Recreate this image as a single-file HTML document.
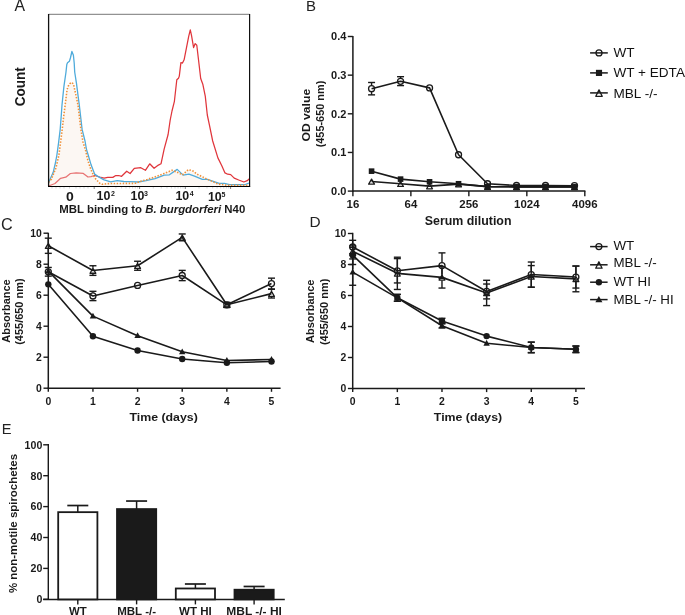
<!DOCTYPE html>
<html><head><meta charset="utf-8"><style>html,body{margin:0;padding:0;background:#fff;}svg{display:block;will-change:transform;}</style></head>
<body>
<svg width="685" height="615" viewBox="0 0 685 615" font-family='"Liberation Sans", sans-serif'>
<rect width="685" height="615" fill="#fff"/>
<polyline points="48.60,186.00 55.00,183.50 60.60,178.30 65.80,177.20 70.40,173.50 76.20,172.90 83.30,173.40 88.00,177.00 91.00,176.60 94.60,175.50 99.70,177.00 104.10,178.10 107.70,177.40 112.80,177.40 115.80,175.50 118.70,175.50 121.60,176.30 126.70,171.20 130.10,173.50 134.30,168.30 140.80,167.70 145.40,170.30 149.70,163.80 154.10,168.30 158.40,165.10 161.00,163.80 164.20,148.80 168.10,134.50 170.20,120.00 172.00,111.00 174.40,101.30 176.80,79.80 178.50,78.20 179.30,76.10 180.90,62.60 182.50,63.10 184.10,59.80 188.70,36.30 190.30,29.80 191.50,35.40 193.60,47.60 195.20,43.60 196.80,45.20 198.80,62.30 200.70,78.50 202.80,84.20 205.30,96.40 207.30,115.00 209.50,125.40 212.70,141.00 217.90,157.90 221.80,165.70 225.00,172.90 227.70,174.20 230.70,174.60 234.20,178.10 238.70,180.00 243.90,182.00 247.20,180.70 249.40,178.70" fill="none" stroke="#e0353b" stroke-width="1.25" stroke-linejoin="round" />
<polygon points="48.6,186.2 48.60,182.50 49.10,181.40 51.40,179.10 56.00,167.70 58.90,155.00 60.60,142.00 62.20,129.40 63.60,117.00 64.80,108.00 66.20,96.60 67.10,89.60 68.30,86.00 70.00,83.50 72.10,82.50 73.60,84.60 74.70,89.60 76.50,97.80 78.00,105.00 80.90,129.40 83.00,142.00 85.50,150.00 88.00,161.00 91.00,169.70 94.60,177.70 99.70,183.20 102.30,184.30 107.70,183.60 135.60,183.30 140.80,181.30 147.30,179.40 159.00,175.50 172.00,170.30 177.20,172.20 182.40,174.80 188.30,169.60 192.80,170.90 197.10,174.20 206.20,178.70 217.90,184.00 227.00,185.20 249.00,185.20 249,186.2" fill="#f6e8dd" fill-opacity="0.35"/>
<polyline points="48.60,182.50 49.10,181.40 53.20,172.30 55.40,163.00 56.90,155.00 58.60,142.70 60.20,129.40 61.30,115.00 62.00,105.00 63.90,86.60 66.00,72.00 66.80,64.50 67.50,62.80 69.40,61.30 70.40,58.00 71.90,51.50 73.40,55.30 74.20,63.00 74.70,72.00 76.50,83.70 78.00,95.40 79.30,105.00 82.10,129.40 85.00,141.00 86.60,150.00 88.20,155.00 91.00,164.60 94.60,174.10 98.20,176.60 104.10,179.90 110.70,181.80 117.20,180.70 123.80,181.50 130.00,181.60 138.20,182.00 146.00,180.70 155.10,178.70 164.20,175.20 169.40,174.80 177.20,169.40 183.10,175.10 188.90,174.20 194.50,176.10 202.30,179.40 207.50,179.40 219.20,183.30 224.40,183.30 229.60,184.60 245.20,184.60 249.00,183.00" fill="none" stroke="#4fabdb" stroke-width="1.3" stroke-linejoin="round" />
<polyline points="48.60,182.50 49.10,181.40 51.40,179.10 56.00,167.70 58.90,155.00 60.60,142.00 62.20,129.40 63.60,117.00 64.80,108.00 66.20,96.60 67.10,89.60 68.30,86.00 70.00,83.50 72.10,82.50 73.60,84.60 74.70,89.60 76.50,97.80 78.00,105.00 80.90,129.40 83.00,142.00 85.50,150.00 88.00,161.00 91.00,169.70 94.60,177.70 99.70,183.20 102.30,184.30 107.70,183.60 135.60,183.30 140.80,181.30 147.30,179.40 159.00,175.50 172.00,170.30 177.20,172.20 182.40,174.80 188.30,169.60 192.80,170.90 197.10,174.20 206.20,178.70 217.90,184.00 227.00,185.20 249.00,185.20" fill="none" stroke="#f0913a" stroke-width="1.6" stroke-linejoin="round" stroke-dasharray="1.5,1.5"/>
<line x1="48.50" y1="14.30" x2="249.60" y2="14.30" stroke="#777" stroke-width="1.0" />
<line x1="249.60" y1="14.00" x2="249.60" y2="186.50" stroke="#111" stroke-width="1.2" />
<line x1="48.60" y1="14.00" x2="48.60" y2="186.60" stroke="#111" stroke-width="1.3" />
<line x1="48.00" y1="186.50" x2="250.20" y2="186.50" stroke="#000" stroke-width="1.05" />
<line x1="94.20" y1="187.00" x2="94.20" y2="189.00" stroke="#666" stroke-width="0.8" />
<line x1="107.90" y1="187.00" x2="107.90" y2="188.50" stroke="#c4c4c4" stroke-width="0.7" />
<line x1="115.91" y1="187.00" x2="115.91" y2="188.50" stroke="#c4c4c4" stroke-width="0.7" />
<line x1="121.59" y1="187.00" x2="121.59" y2="188.50" stroke="#c4c4c4" stroke-width="0.7" />
<line x1="126.00" y1="187.00" x2="126.00" y2="188.50" stroke="#c4c4c4" stroke-width="0.7" />
<line x1="129.61" y1="187.00" x2="129.61" y2="188.50" stroke="#c4c4c4" stroke-width="0.7" />
<line x1="132.65" y1="187.00" x2="132.65" y2="188.50" stroke="#c4c4c4" stroke-width="0.7" />
<line x1="135.29" y1="187.00" x2="135.29" y2="188.50" stroke="#c4c4c4" stroke-width="0.7" />
<line x1="137.62" y1="187.00" x2="137.62" y2="188.50" stroke="#c4c4c4" stroke-width="0.7" />
<line x1="139.60" y1="187.00" x2="139.60" y2="189.00" stroke="#666" stroke-width="0.8" />
<line x1="153.30" y1="187.00" x2="153.30" y2="188.50" stroke="#c4c4c4" stroke-width="0.7" />
<line x1="161.31" y1="187.00" x2="161.31" y2="188.50" stroke="#c4c4c4" stroke-width="0.7" />
<line x1="166.99" y1="187.00" x2="166.99" y2="188.50" stroke="#c4c4c4" stroke-width="0.7" />
<line x1="171.40" y1="187.00" x2="171.40" y2="188.50" stroke="#c4c4c4" stroke-width="0.7" />
<line x1="175.01" y1="187.00" x2="175.01" y2="188.50" stroke="#c4c4c4" stroke-width="0.7" />
<line x1="178.05" y1="187.00" x2="178.05" y2="188.50" stroke="#c4c4c4" stroke-width="0.7" />
<line x1="180.69" y1="187.00" x2="180.69" y2="188.50" stroke="#c4c4c4" stroke-width="0.7" />
<line x1="183.02" y1="187.00" x2="183.02" y2="188.50" stroke="#c4c4c4" stroke-width="0.7" />
<line x1="185.30" y1="187.00" x2="185.30" y2="189.00" stroke="#666" stroke-width="0.8" />
<line x1="199.00" y1="187.00" x2="199.00" y2="188.50" stroke="#c4c4c4" stroke-width="0.7" />
<line x1="207.01" y1="187.00" x2="207.01" y2="188.50" stroke="#c4c4c4" stroke-width="0.7" />
<line x1="212.69" y1="187.00" x2="212.69" y2="188.50" stroke="#c4c4c4" stroke-width="0.7" />
<line x1="217.10" y1="187.00" x2="217.10" y2="188.50" stroke="#c4c4c4" stroke-width="0.7" />
<line x1="220.71" y1="187.00" x2="220.71" y2="188.50" stroke="#c4c4c4" stroke-width="0.7" />
<line x1="223.75" y1="187.00" x2="223.75" y2="188.50" stroke="#c4c4c4" stroke-width="0.7" />
<line x1="226.39" y1="187.00" x2="226.39" y2="188.50" stroke="#c4c4c4" stroke-width="0.7" />
<line x1="228.72" y1="187.00" x2="228.72" y2="188.50" stroke="#c4c4c4" stroke-width="0.7" />
<line x1="230.60" y1="187.00" x2="230.60" y2="189.00" stroke="#666" stroke-width="0.8" />
<line x1="52.00" y1="187.00" x2="52.00" y2="188.50" stroke="#c4c4c4" stroke-width="0.7" />
<line x1="56.00" y1="187.00" x2="56.00" y2="188.50" stroke="#c4c4c4" stroke-width="0.7" />
<line x1="60.00" y1="187.00" x2="60.00" y2="188.50" stroke="#c4c4c4" stroke-width="0.7" />
<line x1="64.00" y1="187.00" x2="64.00" y2="188.50" stroke="#c4c4c4" stroke-width="0.7" />
<line x1="69.50" y1="187.00" x2="69.50" y2="188.50" stroke="#c4c4c4" stroke-width="0.7" />
<line x1="76.00" y1="187.00" x2="76.00" y2="188.50" stroke="#c4c4c4" stroke-width="0.7" />
<line x1="80.00" y1="187.00" x2="80.00" y2="188.50" stroke="#c4c4c4" stroke-width="0.7" />
<line x1="84.00" y1="187.00" x2="84.00" y2="188.50" stroke="#c4c4c4" stroke-width="0.7" />
<line x1="88.00" y1="187.00" x2="88.00" y2="188.50" stroke="#c4c4c4" stroke-width="0.7" />
<text transform="translate(65.90,201.00) scale(1.130,1)" font-size="12.4" font-weight="bold" text-anchor="start" fill="#1a1a1a" >0</text>
<text transform="translate(96.60,200.30)" font-size="12.4" font-weight="bold" text-anchor="start" fill="#1a1a1a" >10</text>
<text transform="translate(110.90,196.20)" font-size="7.0" font-weight="bold" text-anchor="start" fill="#1a1a1a" >2</text>
<text transform="translate(130.60,200.30)" font-size="12.4" font-weight="bold" text-anchor="start" fill="#1a1a1a" >10</text>
<text transform="translate(143.90,196.20)" font-size="7.0" font-weight="bold" text-anchor="start" fill="#1a1a1a" >3</text>
<text transform="translate(175.40,200.30)" font-size="12.4" font-weight="bold" text-anchor="start" fill="#1a1a1a" >10</text>
<text transform="translate(189.70,196.20)" font-size="7.0" font-weight="bold" text-anchor="start" fill="#1a1a1a" >4</text>
<text transform="translate(207.90,201.30)" font-size="12.4" font-weight="bold" text-anchor="start" fill="#1a1a1a" >10</text>
<text transform="translate(221.50,197.20)" font-size="7.0" font-weight="bold" text-anchor="start" fill="#1a1a1a" >5</text>
<text transform="translate(59.3,212.7) scale(1.067,1)" font-size="10.7" font-weight="bold" fill="#1a1a1a">MBL binding to <tspan font-style="italic">B. burgdorferi</tspan> N40</text>
<text transform="translate(25.30,106.20) rotate(-90) scale(0.965,1)" font-size="14.0" font-weight="bold" text-anchor="start" fill="#1a1a1a" >Count</text>
<text transform="translate(14.40,11.20)" font-size="15.8" font-weight="normal" text-anchor="start" fill="#222" >A</text>
<text transform="translate(306.00,10.70)" font-size="15.0" font-weight="normal" text-anchor="start" fill="#222" >B</text>
<line x1="352.90" y1="35.90" x2="352.90" y2="191.80" stroke="#1a1a1a" stroke-width="1.5" />
<line x1="352.20" y1="191.10" x2="585.40" y2="191.10" stroke="#1a1a1a" stroke-width="1.5" />
<line x1="347.80" y1="191.10" x2="352.90" y2="191.10" stroke="#1a1a1a" stroke-width="1.4" />
<text transform="translate(346.40,194.90) scale(1.060,1)" font-size="10.4" font-weight="bold" text-anchor="end" fill="#1a1a1a" >0.0</text>
<line x1="347.80" y1="152.45" x2="352.90" y2="152.45" stroke="#1a1a1a" stroke-width="1.4" />
<text transform="translate(346.40,156.25) scale(1.060,1)" font-size="10.4" font-weight="bold" text-anchor="end" fill="#1a1a1a" >0.1</text>
<line x1="347.80" y1="113.80" x2="352.90" y2="113.80" stroke="#1a1a1a" stroke-width="1.4" />
<text transform="translate(346.40,117.60) scale(1.060,1)" font-size="10.4" font-weight="bold" text-anchor="end" fill="#1a1a1a" >0.2</text>
<line x1="347.80" y1="75.15" x2="352.90" y2="75.15" stroke="#1a1a1a" stroke-width="1.4" />
<text transform="translate(346.40,78.95) scale(1.060,1)" font-size="10.4" font-weight="bold" text-anchor="end" fill="#1a1a1a" >0.3</text>
<line x1="347.80" y1="36.50" x2="352.90" y2="36.50" stroke="#1a1a1a" stroke-width="1.4" />
<text transform="translate(346.40,40.30) scale(1.060,1)" font-size="10.4" font-weight="bold" text-anchor="end" fill="#1a1a1a" >0.4</text>
<line x1="352.90" y1="191.10" x2="352.90" y2="196.20" stroke="#1a1a1a" stroke-width="1.4" />
<text transform="translate(352.90,207.90) scale(1.070,1)" font-size="10.7" font-weight="bold" text-anchor="middle" fill="#1a1a1a" >16</text>
<line x1="410.88" y1="191.10" x2="410.88" y2="196.20" stroke="#1a1a1a" stroke-width="1.4" />
<text transform="translate(410.88,207.90) scale(1.070,1)" font-size="10.7" font-weight="bold" text-anchor="middle" fill="#1a1a1a" >64</text>
<line x1="468.86" y1="191.10" x2="468.86" y2="196.20" stroke="#1a1a1a" stroke-width="1.4" />
<text transform="translate(468.86,207.90) scale(1.070,1)" font-size="10.7" font-weight="bold" text-anchor="middle" fill="#1a1a1a" >256</text>
<line x1="526.84" y1="191.10" x2="526.84" y2="196.20" stroke="#1a1a1a" stroke-width="1.4" />
<text transform="translate(526.84,207.90) scale(1.070,1)" font-size="10.7" font-weight="bold" text-anchor="middle" fill="#1a1a1a" >1024</text>
<line x1="584.82" y1="191.10" x2="584.82" y2="196.20" stroke="#1a1a1a" stroke-width="1.4" />
<text transform="translate(584.82,207.90) scale(1.070,1)" font-size="10.7" font-weight="bold" text-anchor="middle" fill="#1a1a1a" >4096</text>
<text transform="translate(468.10,225.00)" font-size="12.4" font-weight="bold" text-anchor="middle" fill="#1a1a1a" >Serum dilution</text>
<text transform="translate(310.30,115.20) rotate(-90) scale(1.150,1)" font-size="10.6" font-weight="bold" text-anchor="middle" fill="#1a1a1a" >OD value</text>
<text transform="translate(324.30,114.00) rotate(-90) scale(1.030,1)" font-size="10.6" font-weight="bold" text-anchor="middle" fill="#1a1a1a" >(455-650 nm)</text>
<polyline points="371.57,181.44 400.56,183.76 429.55,186.08 458.54,184.14 487.53,186.66 516.52,186.85 545.51,186.85 574.50,186.85" fill="none" stroke="#1a1a1a" stroke-width="1.6" stroke-linejoin="round" />
<polyline points="371.57,171.16 400.56,179.12 429.55,181.82 458.54,183.76 487.53,186.66 516.52,186.85 545.51,186.85 574.50,186.85" fill="none" stroke="#1a1a1a" stroke-width="1.6" stroke-linejoin="round" />
<polyline points="371.57,88.68 400.56,81.33 429.55,87.90 458.54,154.77 487.53,183.76 516.52,185.50 545.51,185.50 574.50,185.69" fill="none" stroke="#1a1a1a" stroke-width="1.6" stroke-linejoin="round" />
<line x1="371.57" y1="82.49" x2="371.57" y2="85.38" stroke="#1a1a1a" stroke-width="1.4" />
<line x1="371.57" y1="91.98" x2="371.57" y2="94.86" stroke="#1a1a1a" stroke-width="1.4" />
<line x1="368.07" y1="82.49" x2="375.07" y2="82.49" stroke="#1a1a1a" stroke-width="1.4" />
<line x1="368.07" y1="94.86" x2="375.07" y2="94.86" stroke="#1a1a1a" stroke-width="1.4" />
<line x1="400.56" y1="76.70" x2="400.56" y2="78.03" stroke="#1a1a1a" stroke-width="1.4" />
<line x1="400.56" y1="84.63" x2="400.56" y2="85.59" stroke="#1a1a1a" stroke-width="1.4" />
<line x1="397.06" y1="76.70" x2="404.06" y2="76.70" stroke="#1a1a1a" stroke-width="1.4" />
<line x1="397.06" y1="85.59" x2="404.06" y2="85.59" stroke="#1a1a1a" stroke-width="1.4" />
<path d="M371.57,179.14 L374.47,184.14 L368.67,184.14 Z" fill="none" stroke="#1a1a1a" stroke-width="1.3" stroke-linejoin="round"/>
<path d="M400.56,181.46 L403.46,186.46 L397.66,186.46 Z" fill="none" stroke="#1a1a1a" stroke-width="1.3" stroke-linejoin="round"/>
<path d="M429.55,183.78 L432.45,188.78 L426.65,188.78 Z" fill="none" stroke="#1a1a1a" stroke-width="1.3" stroke-linejoin="round"/>
<path d="M458.54,181.84 L461.44,186.84 L455.64,186.84 Z" fill="none" stroke="#1a1a1a" stroke-width="1.3" stroke-linejoin="round"/>
<path d="M487.53,184.36 L490.43,189.36 L484.63,189.36 Z" fill="none" stroke="#1a1a1a" stroke-width="1.3" stroke-linejoin="round"/>
<path d="M516.52,184.55 L519.42,189.55 L513.62,189.55 Z" fill="none" stroke="#1a1a1a" stroke-width="1.3" stroke-linejoin="round"/>
<path d="M545.51,184.55 L548.41,189.55 L542.61,189.55 Z" fill="none" stroke="#1a1a1a" stroke-width="1.3" stroke-linejoin="round"/>
<path d="M574.50,184.55 L577.40,189.55 L571.60,189.55 Z" fill="none" stroke="#1a1a1a" stroke-width="1.3" stroke-linejoin="round"/>
<rect x="368.77" y="168.36" width="5.60" height="5.60" fill="#1a1a1a"/>
<rect x="397.76" y="176.32" width="5.60" height="5.60" fill="#1a1a1a"/>
<rect x="426.75" y="179.02" width="5.60" height="5.60" fill="#1a1a1a"/>
<rect x="455.74" y="180.96" width="5.60" height="5.60" fill="#1a1a1a"/>
<rect x="484.73" y="183.86" width="5.60" height="5.60" fill="#1a1a1a"/>
<rect x="513.72" y="184.05" width="5.60" height="5.60" fill="#1a1a1a"/>
<rect x="542.71" y="184.05" width="5.60" height="5.60" fill="#1a1a1a"/>
<rect x="571.70" y="184.05" width="5.60" height="5.60" fill="#1a1a1a"/>
<circle cx="371.57" cy="88.68" r="3.00" fill="none" stroke="#1a1a1a" stroke-width="1.3"/>
<circle cx="400.56" cy="81.33" r="3.00" fill="none" stroke="#1a1a1a" stroke-width="1.3"/>
<circle cx="429.55" cy="87.90" r="3.00" fill="none" stroke="#1a1a1a" stroke-width="1.3"/>
<circle cx="458.54" cy="154.77" r="3.00" fill="none" stroke="#1a1a1a" stroke-width="1.3"/>
<circle cx="487.53" cy="183.76" r="3.00" fill="none" stroke="#1a1a1a" stroke-width="1.3"/>
<circle cx="516.52" cy="185.50" r="3.00" fill="none" stroke="#1a1a1a" stroke-width="1.3"/>
<circle cx="545.51" cy="185.50" r="3.00" fill="none" stroke="#1a1a1a" stroke-width="1.3"/>
<circle cx="574.50" cy="185.69" r="3.00" fill="none" stroke="#1a1a1a" stroke-width="1.3"/>
<line x1="590.10" y1="52.90" x2="607.80" y2="52.90" stroke="#1a1a1a" stroke-width="1.5" />
<circle cx="599.00" cy="52.90" r="3.00" fill="none" stroke="#1a1a1a" stroke-width="1.3"/>
<text transform="translate(613.50,57.10) scale(1.020,1)" font-size="13.3" font-weight="normal" text-anchor="start" fill="#111" >WT</text>
<line x1="590.10" y1="72.90" x2="607.80" y2="72.90" stroke="#1a1a1a" stroke-width="1.5" />
<rect x="595.92" y="69.82" width="6.16" height="6.16" fill="#1a1a1a"/>
<text transform="translate(613.50,77.20) scale(1.020,1)" font-size="13.3" font-weight="normal" text-anchor="start" fill="#111" >WT + EDTA</text>
<line x1="590.10" y1="92.90" x2="607.80" y2="92.90" stroke="#1a1a1a" stroke-width="1.5" />
<path d="M599.00,89.90 L602.20,96.30 L595.80,96.30 Z" fill="none" stroke="#1a1a1a" stroke-width="1.3" stroke-linejoin="round"/>
<text transform="translate(613.50,97.50) scale(1.020,1)" font-size="13.3" font-weight="normal" text-anchor="start" fill="#111" >MBL -/-</text>
<line x1="48.30" y1="232.80" x2="48.30" y2="388.90" stroke="#1a1a1a" stroke-width="1.5" />
<line x1="47.60" y1="388.20" x2="280.60" y2="388.20" stroke="#1a1a1a" stroke-width="1.5" />
<line x1="43.50" y1="388.20" x2="48.30" y2="388.20" stroke="#1a1a1a" stroke-width="1.4" />
<text transform="translate(41.90,392.00)" font-size="10.4" font-weight="bold" text-anchor="end" fill="#1a1a1a" >0</text>
<line x1="43.50" y1="357.20" x2="48.30" y2="357.20" stroke="#1a1a1a" stroke-width="1.4" />
<text transform="translate(41.90,361.00)" font-size="10.4" font-weight="bold" text-anchor="end" fill="#1a1a1a" >2</text>
<line x1="43.50" y1="326.20" x2="48.30" y2="326.20" stroke="#1a1a1a" stroke-width="1.4" />
<text transform="translate(41.90,330.00)" font-size="10.4" font-weight="bold" text-anchor="end" fill="#1a1a1a" >4</text>
<line x1="43.50" y1="295.20" x2="48.30" y2="295.20" stroke="#1a1a1a" stroke-width="1.4" />
<text transform="translate(41.90,299.00)" font-size="10.4" font-weight="bold" text-anchor="end" fill="#1a1a1a" >6</text>
<line x1="43.50" y1="264.20" x2="48.30" y2="264.20" stroke="#1a1a1a" stroke-width="1.4" />
<text transform="translate(41.90,268.00)" font-size="10.4" font-weight="bold" text-anchor="end" fill="#1a1a1a" >8</text>
<line x1="43.50" y1="233.20" x2="48.30" y2="233.20" stroke="#1a1a1a" stroke-width="1.4" />
<text transform="translate(41.90,237.00)" font-size="10.4" font-weight="bold" text-anchor="end" fill="#1a1a1a" >10</text>
<line x1="48.30" y1="388.20" x2="48.30" y2="391.80" stroke="#1a1a1a" stroke-width="1.4" />
<text transform="translate(48.30,404.60)" font-size="10.4" font-weight="bold" text-anchor="middle" fill="#1a1a1a" >0</text>
<line x1="92.94" y1="388.20" x2="92.94" y2="391.80" stroke="#1a1a1a" stroke-width="1.4" />
<text transform="translate(92.94,404.60)" font-size="10.4" font-weight="bold" text-anchor="middle" fill="#1a1a1a" >1</text>
<line x1="137.58" y1="388.20" x2="137.58" y2="391.80" stroke="#1a1a1a" stroke-width="1.4" />
<text transform="translate(137.58,404.60)" font-size="10.4" font-weight="bold" text-anchor="middle" fill="#1a1a1a" >2</text>
<line x1="182.22" y1="388.20" x2="182.22" y2="391.80" stroke="#1a1a1a" stroke-width="1.4" />
<text transform="translate(182.22,404.60)" font-size="10.4" font-weight="bold" text-anchor="middle" fill="#1a1a1a" >3</text>
<line x1="226.86" y1="388.20" x2="226.86" y2="391.80" stroke="#1a1a1a" stroke-width="1.4" />
<text transform="translate(226.86,404.60)" font-size="10.4" font-weight="bold" text-anchor="middle" fill="#1a1a1a" >4</text>
<line x1="271.50" y1="388.20" x2="271.50" y2="391.80" stroke="#1a1a1a" stroke-width="1.4" />
<text transform="translate(271.50,404.60)" font-size="10.4" font-weight="bold" text-anchor="middle" fill="#1a1a1a" >5</text>
<text transform="translate(163.60,420.90) scale(1.075,1)" font-size="11.5" font-weight="bold" text-anchor="middle" fill="#1a1a1a" >Time (days)</text>
<text transform="translate(10.00,311.00) rotate(-90) scale(0.980,1)" font-size="11.2" font-weight="bold" text-anchor="middle" fill="#1a1a1a" >Absorbance</text>
<text transform="translate(23.30,311.60) rotate(-90) scale(0.980,1)" font-size="11.2" font-weight="bold" text-anchor="middle" fill="#1a1a1a" >(455/650 nm)</text>
<text transform="translate(1.00,230.40)" font-size="16.2" font-weight="normal" text-anchor="start" fill="#222" >C</text>
<polyline points="48.30,284.35 92.94,336.27 137.58,350.53 182.22,359.06 226.86,362.78 271.50,361.54" fill="none" stroke="#1a1a1a" stroke-width="1.6" stroke-linejoin="round" />
<polyline points="48.30,271.18 92.94,316.12 137.58,335.65 182.22,351.77 226.86,360.45 271.50,359.52" fill="none" stroke="#1a1a1a" stroke-width="1.6" stroke-linejoin="round" />
<polyline points="48.30,271.79 92.94,295.97 137.58,285.44 182.22,275.51 226.86,304.81 271.50,283.57" fill="none" stroke="#1a1a1a" stroke-width="1.6" stroke-linejoin="round" />
<polyline points="48.30,245.75 92.94,270.56 137.58,265.75 182.22,237.38 226.86,304.81 271.50,293.65" fill="none" stroke="#1a1a1a" stroke-width="1.6" stroke-linejoin="round" />
<line x1="48.30" y1="267.45" x2="48.30" y2="268.49" stroke="#1a1a1a" stroke-width="1.4" />
<line x1="48.30" y1="275.09" x2="48.30" y2="276.13" stroke="#1a1a1a" stroke-width="1.4" />
<line x1="44.80" y1="267.45" x2="51.80" y2="267.45" stroke="#1a1a1a" stroke-width="1.4" />
<line x1="44.80" y1="276.13" x2="51.80" y2="276.13" stroke="#1a1a1a" stroke-width="1.4" />
<line x1="92.94" y1="291.32" x2="92.94" y2="292.67" stroke="#1a1a1a" stroke-width="1.4" />
<line x1="92.94" y1="299.27" x2="92.94" y2="300.62" stroke="#1a1a1a" stroke-width="1.4" />
<line x1="89.44" y1="291.32" x2="96.44" y2="291.32" stroke="#1a1a1a" stroke-width="1.4" />
<line x1="89.44" y1="300.62" x2="96.44" y2="300.62" stroke="#1a1a1a" stroke-width="1.4" />
<line x1="182.22" y1="270.40" x2="182.22" y2="272.21" stroke="#1a1a1a" stroke-width="1.4" />
<line x1="182.22" y1="278.81" x2="182.22" y2="280.63" stroke="#1a1a1a" stroke-width="1.4" />
<line x1="178.72" y1="270.40" x2="185.72" y2="270.40" stroke="#1a1a1a" stroke-width="1.4" />
<line x1="178.72" y1="280.63" x2="185.72" y2="280.63" stroke="#1a1a1a" stroke-width="1.4" />
<line x1="223.36" y1="302.49" x2="230.36" y2="302.49" stroke="#1a1a1a" stroke-width="1.4" />
<line x1="223.36" y1="307.13" x2="230.36" y2="307.13" stroke="#1a1a1a" stroke-width="1.4" />
<line x1="271.50" y1="278.15" x2="271.50" y2="280.27" stroke="#1a1a1a" stroke-width="1.4" />
<line x1="271.50" y1="286.88" x2="271.50" y2="289.00" stroke="#1a1a1a" stroke-width="1.4" />
<line x1="268.00" y1="278.15" x2="275.00" y2="278.15" stroke="#1a1a1a" stroke-width="1.4" />
<line x1="268.00" y1="289.00" x2="275.00" y2="289.00" stroke="#1a1a1a" stroke-width="1.4" />
<line x1="48.30" y1="238.16" x2="48.30" y2="242.95" stroke="#1a1a1a" stroke-width="1.4" />
<line x1="48.30" y1="248.95" x2="48.30" y2="253.35" stroke="#1a1a1a" stroke-width="1.4" />
<line x1="44.80" y1="238.16" x2="51.80" y2="238.16" stroke="#1a1a1a" stroke-width="1.4" />
<line x1="44.80" y1="253.35" x2="51.80" y2="253.35" stroke="#1a1a1a" stroke-width="1.4" />
<line x1="92.94" y1="265.75" x2="92.94" y2="267.75" stroke="#1a1a1a" stroke-width="1.4" />
<line x1="92.94" y1="273.75" x2="92.94" y2="275.36" stroke="#1a1a1a" stroke-width="1.4" />
<line x1="89.44" y1="265.75" x2="96.44" y2="265.75" stroke="#1a1a1a" stroke-width="1.4" />
<line x1="89.44" y1="275.36" x2="96.44" y2="275.36" stroke="#1a1a1a" stroke-width="1.4" />
<line x1="137.58" y1="261.25" x2="137.58" y2="262.95" stroke="#1a1a1a" stroke-width="1.4" />
<line x1="137.58" y1="268.95" x2="137.58" y2="270.25" stroke="#1a1a1a" stroke-width="1.4" />
<line x1="134.08" y1="261.25" x2="141.08" y2="261.25" stroke="#1a1a1a" stroke-width="1.4" />
<line x1="134.08" y1="270.25" x2="141.08" y2="270.25" stroke="#1a1a1a" stroke-width="1.4" />
<line x1="182.22" y1="233.97" x2="182.22" y2="234.58" stroke="#1a1a1a" stroke-width="1.4" />
<line x1="182.22" y1="240.58" x2="182.22" y2="240.79" stroke="#1a1a1a" stroke-width="1.4" />
<line x1="178.72" y1="233.97" x2="185.72" y2="233.97" stroke="#1a1a1a" stroke-width="1.4" />
<line x1="178.72" y1="240.79" x2="185.72" y2="240.79" stroke="#1a1a1a" stroke-width="1.4" />
<line x1="223.36" y1="302.49" x2="230.36" y2="302.49" stroke="#1a1a1a" stroke-width="1.4" />
<line x1="223.36" y1="307.13" x2="230.36" y2="307.13" stroke="#1a1a1a" stroke-width="1.4" />
<line x1="271.50" y1="289.31" x2="271.50" y2="290.85" stroke="#1a1a1a" stroke-width="1.4" />
<line x1="271.50" y1="296.85" x2="271.50" y2="297.99" stroke="#1a1a1a" stroke-width="1.4" />
<line x1="268.00" y1="289.31" x2="275.00" y2="289.31" stroke="#1a1a1a" stroke-width="1.4" />
<line x1="268.00" y1="297.99" x2="275.00" y2="297.99" stroke="#1a1a1a" stroke-width="1.4" />
<circle cx="48.30" cy="284.35" r="3.20" fill="#1a1a1a"/>
<circle cx="92.94" cy="336.27" r="3.20" fill="#1a1a1a"/>
<circle cx="137.58" cy="350.53" r="3.20" fill="#1a1a1a"/>
<circle cx="182.22" cy="359.06" r="3.20" fill="#1a1a1a"/>
<circle cx="226.86" cy="362.78" r="3.20" fill="#1a1a1a"/>
<circle cx="271.50" cy="361.54" r="3.20" fill="#1a1a1a"/>
<path d="M48.30,267.78 L51.50,273.57 L45.10,273.57 Z" fill="#1a1a1a"/>
<path d="M92.94,312.73 L96.14,318.52 L89.74,318.52 Z" fill="#1a1a1a"/>
<path d="M137.58,332.25 L140.78,338.05 L134.38,338.05 Z" fill="#1a1a1a"/>
<path d="M182.22,348.38 L185.42,354.17 L179.02,354.17 Z" fill="#1a1a1a"/>
<path d="M226.86,357.06 L230.06,362.85 L223.66,362.85 Z" fill="#1a1a1a"/>
<path d="M271.50,356.12 L274.70,361.92 L268.30,361.92 Z" fill="#1a1a1a"/>
<circle cx="48.30" cy="271.79" r="3.00" fill="none" stroke="#1a1a1a" stroke-width="1.3"/>
<circle cx="92.94" cy="295.97" r="3.00" fill="none" stroke="#1a1a1a" stroke-width="1.3"/>
<circle cx="137.58" cy="285.44" r="3.00" fill="none" stroke="#1a1a1a" stroke-width="1.3"/>
<circle cx="182.22" cy="275.51" r="3.00" fill="none" stroke="#1a1a1a" stroke-width="1.3"/>
<circle cx="226.86" cy="304.81" r="3.00" fill="none" stroke="#1a1a1a" stroke-width="1.3"/>
<circle cx="271.50" cy="283.57" r="3.00" fill="none" stroke="#1a1a1a" stroke-width="1.3"/>
<path d="M48.30,243.45 L51.20,248.45 L45.40,248.45 Z" fill="none" stroke="#1a1a1a" stroke-width="1.3" stroke-linejoin="round"/>
<path d="M92.94,268.25 L95.84,273.25 L90.04,273.25 Z" fill="none" stroke="#1a1a1a" stroke-width="1.3" stroke-linejoin="round"/>
<path d="M137.58,263.45 L140.48,268.45 L134.68,268.45 Z" fill="none" stroke="#1a1a1a" stroke-width="1.3" stroke-linejoin="round"/>
<path d="M182.22,235.08 L185.12,240.08 L179.32,240.08 Z" fill="none" stroke="#1a1a1a" stroke-width="1.3" stroke-linejoin="round"/>
<path d="M226.86,302.51 L229.76,307.51 L223.96,307.51 Z" fill="none" stroke="#1a1a1a" stroke-width="1.3" stroke-linejoin="round"/>
<path d="M271.50,291.35 L274.40,296.35 L268.60,296.35 Z" fill="none" stroke="#1a1a1a" stroke-width="1.3" stroke-linejoin="round"/>
<line x1="352.70" y1="232.80" x2="352.70" y2="389.20" stroke="#1a1a1a" stroke-width="1.5" />
<line x1="352.00" y1="388.50" x2="585.00" y2="388.50" stroke="#1a1a1a" stroke-width="1.5" />
<line x1="347.90" y1="388.50" x2="352.70" y2="388.50" stroke="#1a1a1a" stroke-width="1.4" />
<text transform="translate(346.30,392.30)" font-size="10.4" font-weight="bold" text-anchor="end" fill="#1a1a1a" >0</text>
<line x1="347.90" y1="357.50" x2="352.70" y2="357.50" stroke="#1a1a1a" stroke-width="1.4" />
<text transform="translate(346.30,361.30)" font-size="10.4" font-weight="bold" text-anchor="end" fill="#1a1a1a" >2</text>
<line x1="347.90" y1="326.50" x2="352.70" y2="326.50" stroke="#1a1a1a" stroke-width="1.4" />
<text transform="translate(346.30,330.30)" font-size="10.4" font-weight="bold" text-anchor="end" fill="#1a1a1a" >4</text>
<line x1="347.90" y1="295.50" x2="352.70" y2="295.50" stroke="#1a1a1a" stroke-width="1.4" />
<text transform="translate(346.30,299.30)" font-size="10.4" font-weight="bold" text-anchor="end" fill="#1a1a1a" >6</text>
<line x1="347.90" y1="264.50" x2="352.70" y2="264.50" stroke="#1a1a1a" stroke-width="1.4" />
<text transform="translate(346.30,268.30)" font-size="10.4" font-weight="bold" text-anchor="end" fill="#1a1a1a" >8</text>
<line x1="347.90" y1="233.50" x2="352.70" y2="233.50" stroke="#1a1a1a" stroke-width="1.4" />
<text transform="translate(346.30,237.30)" font-size="10.4" font-weight="bold" text-anchor="end" fill="#1a1a1a" >10</text>
<line x1="352.70" y1="388.50" x2="352.70" y2="392.10" stroke="#1a1a1a" stroke-width="1.4" />
<text transform="translate(352.70,404.90)" font-size="10.4" font-weight="bold" text-anchor="middle" fill="#1a1a1a" >0</text>
<line x1="397.34" y1="388.50" x2="397.34" y2="392.10" stroke="#1a1a1a" stroke-width="1.4" />
<text transform="translate(397.34,404.90)" font-size="10.4" font-weight="bold" text-anchor="middle" fill="#1a1a1a" >1</text>
<line x1="441.98" y1="388.50" x2="441.98" y2="392.10" stroke="#1a1a1a" stroke-width="1.4" />
<text transform="translate(441.98,404.90)" font-size="10.4" font-weight="bold" text-anchor="middle" fill="#1a1a1a" >2</text>
<line x1="486.62" y1="388.50" x2="486.62" y2="392.10" stroke="#1a1a1a" stroke-width="1.4" />
<text transform="translate(486.62,404.90)" font-size="10.4" font-weight="bold" text-anchor="middle" fill="#1a1a1a" >3</text>
<line x1="531.26" y1="388.50" x2="531.26" y2="392.10" stroke="#1a1a1a" stroke-width="1.4" />
<text transform="translate(531.26,404.90)" font-size="10.4" font-weight="bold" text-anchor="middle" fill="#1a1a1a" >4</text>
<line x1="575.90" y1="388.50" x2="575.90" y2="392.10" stroke="#1a1a1a" stroke-width="1.4" />
<text transform="translate(575.90,404.90)" font-size="10.4" font-weight="bold" text-anchor="middle" fill="#1a1a1a" >5</text>
<text transform="translate(468.00,421.20) scale(1.075,1)" font-size="11.5" font-weight="bold" text-anchor="middle" fill="#1a1a1a" >Time (days)</text>
<text transform="translate(314.40,311.30) rotate(-90) scale(0.980,1)" font-size="11.2" font-weight="bold" text-anchor="middle" fill="#1a1a1a" >Absorbance</text>
<text transform="translate(327.70,311.90) rotate(-90) scale(0.980,1)" font-size="11.2" font-weight="bold" text-anchor="middle" fill="#1a1a1a" >(455/650 nm)</text>
<text transform="translate(309.60,226.90)" font-size="15.4" font-weight="normal" text-anchor="start" fill="#222" >D</text>
<polyline points="352.70,255.20 397.34,297.82 441.98,321.07 486.62,336.11 531.26,347.43 575.90,349.29" fill="none" stroke="#1a1a1a" stroke-width="1.6" stroke-linejoin="round" />
<polyline points="352.70,272.10 397.34,297.82 441.98,325.73 486.62,343.24 531.26,347.43 575.90,349.29" fill="none" stroke="#1a1a1a" stroke-width="1.6" stroke-linejoin="round" />
<polyline points="352.70,246.98 397.34,270.78 441.98,265.59 486.62,291.47 531.26,274.57 575.90,277.06" fill="none" stroke="#1a1a1a" stroke-width="1.6" stroke-linejoin="round" />
<polyline points="352.70,251.33 397.34,273.34 441.98,277.37 486.62,292.94 531.26,276.44 575.90,278.91" fill="none" stroke="#1a1a1a" stroke-width="1.6" stroke-linejoin="round" />
<line x1="352.70" y1="245.90" x2="352.70" y2="252.20" stroke="#1a1a1a" stroke-width="1.4" />
<line x1="352.70" y1="258.20" x2="352.70" y2="264.50" stroke="#1a1a1a" stroke-width="1.4" />
<line x1="349.20" y1="245.90" x2="356.20" y2="245.90" stroke="#1a1a1a" stroke-width="1.4" />
<line x1="349.20" y1="264.50" x2="356.20" y2="264.50" stroke="#1a1a1a" stroke-width="1.4" />
<line x1="397.34" y1="294.42" x2="397.34" y2="294.82" stroke="#1a1a1a" stroke-width="1.4" />
<line x1="397.34" y1="300.82" x2="397.34" y2="301.24" stroke="#1a1a1a" stroke-width="1.4" />
<line x1="393.84" y1="294.42" x2="400.84" y2="294.42" stroke="#1a1a1a" stroke-width="1.4" />
<line x1="393.84" y1="301.24" x2="400.84" y2="301.24" stroke="#1a1a1a" stroke-width="1.4" />
<line x1="438.48" y1="318.29" x2="445.48" y2="318.29" stroke="#1a1a1a" stroke-width="1.4" />
<line x1="438.48" y1="323.87" x2="445.48" y2="323.87" stroke="#1a1a1a" stroke-width="1.4" />
<line x1="531.26" y1="342.00" x2="531.26" y2="344.43" stroke="#1a1a1a" stroke-width="1.4" />
<line x1="531.26" y1="350.43" x2="531.26" y2="352.85" stroke="#1a1a1a" stroke-width="1.4" />
<line x1="527.76" y1="342.00" x2="534.76" y2="342.00" stroke="#1a1a1a" stroke-width="1.4" />
<line x1="527.76" y1="352.85" x2="534.76" y2="352.85" stroke="#1a1a1a" stroke-width="1.4" />
<line x1="575.90" y1="345.88" x2="575.90" y2="346.29" stroke="#1a1a1a" stroke-width="1.4" />
<line x1="575.90" y1="352.29" x2="575.90" y2="352.69" stroke="#1a1a1a" stroke-width="1.4" />
<line x1="572.40" y1="345.88" x2="579.40" y2="345.88" stroke="#1a1a1a" stroke-width="1.4" />
<line x1="572.40" y1="352.69" x2="579.40" y2="352.69" stroke="#1a1a1a" stroke-width="1.4" />
<line x1="352.70" y1="258.92" x2="352.70" y2="268.90" stroke="#1a1a1a" stroke-width="1.4" />
<line x1="352.70" y1="274.70" x2="352.70" y2="285.27" stroke="#1a1a1a" stroke-width="1.4" />
<line x1="349.20" y1="258.92" x2="356.20" y2="258.92" stroke="#1a1a1a" stroke-width="1.4" />
<line x1="349.20" y1="285.27" x2="356.20" y2="285.27" stroke="#1a1a1a" stroke-width="1.4" />
<line x1="397.34" y1="294.42" x2="397.34" y2="294.62" stroke="#1a1a1a" stroke-width="1.4" />
<line x1="397.34" y1="300.43" x2="397.34" y2="301.24" stroke="#1a1a1a" stroke-width="1.4" />
<line x1="393.84" y1="294.42" x2="400.84" y2="294.42" stroke="#1a1a1a" stroke-width="1.4" />
<line x1="393.84" y1="301.24" x2="400.84" y2="301.24" stroke="#1a1a1a" stroke-width="1.4" />
<line x1="438.48" y1="323.40" x2="445.48" y2="323.40" stroke="#1a1a1a" stroke-width="1.4" />
<line x1="438.48" y1="328.05" x2="445.48" y2="328.05" stroke="#1a1a1a" stroke-width="1.4" />
<line x1="531.26" y1="342.31" x2="531.26" y2="344.23" stroke="#1a1a1a" stroke-width="1.4" />
<line x1="531.26" y1="350.03" x2="531.26" y2="352.54" stroke="#1a1a1a" stroke-width="1.4" />
<line x1="527.76" y1="342.31" x2="534.76" y2="342.31" stroke="#1a1a1a" stroke-width="1.4" />
<line x1="527.76" y1="352.54" x2="534.76" y2="352.54" stroke="#1a1a1a" stroke-width="1.4" />
<line x1="575.90" y1="351.89" x2="575.90" y2="352.38" stroke="#1a1a1a" stroke-width="1.4" />
<line x1="572.40" y1="346.19" x2="579.40" y2="346.19" stroke="#1a1a1a" stroke-width="1.4" />
<line x1="572.40" y1="352.38" x2="579.40" y2="352.38" stroke="#1a1a1a" stroke-width="1.4" />
<line x1="352.70" y1="240.32" x2="352.70" y2="243.68" stroke="#1a1a1a" stroke-width="1.4" />
<line x1="352.70" y1="250.28" x2="352.70" y2="253.65" stroke="#1a1a1a" stroke-width="1.4" />
<line x1="349.20" y1="240.32" x2="356.20" y2="240.32" stroke="#1a1a1a" stroke-width="1.4" />
<line x1="349.20" y1="253.65" x2="356.20" y2="253.65" stroke="#1a1a1a" stroke-width="1.4" />
<line x1="397.34" y1="258.61" x2="397.34" y2="267.48" stroke="#1a1a1a" stroke-width="1.4" />
<line x1="397.34" y1="274.08" x2="397.34" y2="282.94" stroke="#1a1a1a" stroke-width="1.4" />
<line x1="393.84" y1="258.61" x2="400.84" y2="258.61" stroke="#1a1a1a" stroke-width="1.4" />
<line x1="393.84" y1="282.94" x2="400.84" y2="282.94" stroke="#1a1a1a" stroke-width="1.4" />
<line x1="441.98" y1="252.88" x2="441.98" y2="262.29" stroke="#1a1a1a" stroke-width="1.4" />
<line x1="441.98" y1="268.89" x2="441.98" y2="278.30" stroke="#1a1a1a" stroke-width="1.4" />
<line x1="438.48" y1="252.88" x2="445.48" y2="252.88" stroke="#1a1a1a" stroke-width="1.4" />
<line x1="438.48" y1="278.30" x2="445.48" y2="278.30" stroke="#1a1a1a" stroke-width="1.4" />
<line x1="486.62" y1="284.03" x2="486.62" y2="288.17" stroke="#1a1a1a" stroke-width="1.4" />
<line x1="486.62" y1="294.77" x2="486.62" y2="298.91" stroke="#1a1a1a" stroke-width="1.4" />
<line x1="483.12" y1="284.03" x2="490.12" y2="284.03" stroke="#1a1a1a" stroke-width="1.4" />
<line x1="483.12" y1="298.91" x2="490.12" y2="298.91" stroke="#1a1a1a" stroke-width="1.4" />
<line x1="531.26" y1="262.02" x2="531.26" y2="271.27" stroke="#1a1a1a" stroke-width="1.4" />
<line x1="531.26" y1="277.88" x2="531.26" y2="287.13" stroke="#1a1a1a" stroke-width="1.4" />
<line x1="527.76" y1="262.02" x2="534.76" y2="262.02" stroke="#1a1a1a" stroke-width="1.4" />
<line x1="527.76" y1="287.13" x2="534.76" y2="287.13" stroke="#1a1a1a" stroke-width="1.4" />
<line x1="575.90" y1="266.05" x2="575.90" y2="273.75" stroke="#1a1a1a" stroke-width="1.4" />
<line x1="575.90" y1="280.36" x2="575.90" y2="288.06" stroke="#1a1a1a" stroke-width="1.4" />
<line x1="572.40" y1="266.05" x2="579.40" y2="266.05" stroke="#1a1a1a" stroke-width="1.4" />
<line x1="572.40" y1="288.06" x2="579.40" y2="288.06" stroke="#1a1a1a" stroke-width="1.4" />
<line x1="352.70" y1="247.45" x2="352.70" y2="248.53" stroke="#1a1a1a" stroke-width="1.4" />
<line x1="352.70" y1="254.53" x2="352.70" y2="255.20" stroke="#1a1a1a" stroke-width="1.4" />
<line x1="349.20" y1="247.45" x2="356.20" y2="247.45" stroke="#1a1a1a" stroke-width="1.4" />
<line x1="349.20" y1="255.20" x2="356.20" y2="255.20" stroke="#1a1a1a" stroke-width="1.4" />
<line x1="397.34" y1="257.22" x2="397.34" y2="270.54" stroke="#1a1a1a" stroke-width="1.4" />
<line x1="397.34" y1="276.54" x2="397.34" y2="289.45" stroke="#1a1a1a" stroke-width="1.4" />
<line x1="393.84" y1="257.22" x2="400.84" y2="257.22" stroke="#1a1a1a" stroke-width="1.4" />
<line x1="393.84" y1="289.45" x2="400.84" y2="289.45" stroke="#1a1a1a" stroke-width="1.4" />
<line x1="441.98" y1="266.67" x2="441.98" y2="274.56" stroke="#1a1a1a" stroke-width="1.4" />
<line x1="441.98" y1="280.56" x2="441.98" y2="288.06" stroke="#1a1a1a" stroke-width="1.4" />
<line x1="438.48" y1="266.67" x2="445.48" y2="266.67" stroke="#1a1a1a" stroke-width="1.4" />
<line x1="438.48" y1="288.06" x2="445.48" y2="288.06" stroke="#1a1a1a" stroke-width="1.4" />
<line x1="486.62" y1="280.29" x2="486.62" y2="290.14" stroke="#1a1a1a" stroke-width="1.4" />
<line x1="486.62" y1="296.14" x2="486.62" y2="305.59" stroke="#1a1a1a" stroke-width="1.4" />
<line x1="483.12" y1="280.29" x2="490.12" y2="280.29" stroke="#1a1a1a" stroke-width="1.4" />
<line x1="483.12" y1="305.59" x2="490.12" y2="305.59" stroke="#1a1a1a" stroke-width="1.4" />
<line x1="531.26" y1="265.58" x2="531.26" y2="273.63" stroke="#1a1a1a" stroke-width="1.4" />
<line x1="531.26" y1="279.63" x2="531.26" y2="287.28" stroke="#1a1a1a" stroke-width="1.4" />
<line x1="527.76" y1="265.58" x2="534.76" y2="265.58" stroke="#1a1a1a" stroke-width="1.4" />
<line x1="527.76" y1="287.28" x2="534.76" y2="287.28" stroke="#1a1a1a" stroke-width="1.4" />
<line x1="575.90" y1="266.05" x2="575.90" y2="276.11" stroke="#1a1a1a" stroke-width="1.4" />
<line x1="575.90" y1="282.11" x2="575.90" y2="291.78" stroke="#1a1a1a" stroke-width="1.4" />
<line x1="572.40" y1="266.05" x2="579.40" y2="266.05" stroke="#1a1a1a" stroke-width="1.4" />
<line x1="572.40" y1="291.78" x2="579.40" y2="291.78" stroke="#1a1a1a" stroke-width="1.4" />
<circle cx="352.70" cy="255.20" r="3.20" fill="#1a1a1a"/>
<circle cx="397.34" cy="297.82" r="3.20" fill="#1a1a1a"/>
<circle cx="441.98" cy="321.07" r="3.20" fill="#1a1a1a"/>
<circle cx="486.62" cy="336.11" r="3.20" fill="#1a1a1a"/>
<circle cx="531.26" cy="347.43" r="3.20" fill="#1a1a1a"/>
<circle cx="575.90" cy="349.29" r="3.20" fill="#1a1a1a"/>
<path d="M352.70,268.70 L355.90,274.50 L349.50,274.50 Z" fill="#1a1a1a"/>
<path d="M397.34,294.43 L400.54,300.22 L394.14,300.22 Z" fill="#1a1a1a"/>
<path d="M441.98,322.33 L445.18,328.12 L438.78,328.12 Z" fill="#1a1a1a"/>
<path d="M486.62,339.84 L489.82,345.64 L483.42,345.64 Z" fill="#1a1a1a"/>
<path d="M531.26,344.03 L534.46,349.82 L528.06,349.82 Z" fill="#1a1a1a"/>
<path d="M575.90,345.89 L579.10,351.69 L572.70,351.69 Z" fill="#1a1a1a"/>
<circle cx="352.70" cy="246.98" r="3.00" fill="none" stroke="#1a1a1a" stroke-width="1.3"/>
<circle cx="397.34" cy="270.78" r="3.00" fill="none" stroke="#1a1a1a" stroke-width="1.3"/>
<circle cx="441.98" cy="265.59" r="3.00" fill="none" stroke="#1a1a1a" stroke-width="1.3"/>
<circle cx="486.62" cy="291.47" r="3.00" fill="none" stroke="#1a1a1a" stroke-width="1.3"/>
<circle cx="531.26" cy="274.57" r="3.00" fill="none" stroke="#1a1a1a" stroke-width="1.3"/>
<circle cx="575.90" cy="277.06" r="3.00" fill="none" stroke="#1a1a1a" stroke-width="1.3"/>
<path d="M352.70,249.03 L355.60,254.03 L349.80,254.03 Z" fill="none" stroke="#1a1a1a" stroke-width="1.3" stroke-linejoin="round"/>
<path d="M397.34,271.04 L400.24,276.04 L394.44,276.04 Z" fill="none" stroke="#1a1a1a" stroke-width="1.3" stroke-linejoin="round"/>
<path d="M441.98,275.06 L444.88,280.06 L439.08,280.06 Z" fill="none" stroke="#1a1a1a" stroke-width="1.3" stroke-linejoin="round"/>
<path d="M486.62,290.64 L489.52,295.64 L483.72,295.64 Z" fill="none" stroke="#1a1a1a" stroke-width="1.3" stroke-linejoin="round"/>
<path d="M531.26,274.13 L534.16,279.13 L528.36,279.13 Z" fill="none" stroke="#1a1a1a" stroke-width="1.3" stroke-linejoin="round"/>
<path d="M575.90,276.61 L578.80,281.61 L573.00,281.61 Z" fill="none" stroke="#1a1a1a" stroke-width="1.3" stroke-linejoin="round"/>
<line x1="590.10" y1="246.60" x2="607.60" y2="246.60" stroke="#1a1a1a" stroke-width="1.5" />
<circle cx="598.90" cy="246.60" r="3.00" fill="none" stroke="#1a1a1a" stroke-width="1.3"/>
<text transform="translate(613.40,250.40) scale(1.060,1)" font-size="12.6" font-weight="normal" text-anchor="start" fill="#111" >WT</text>
<line x1="590.10" y1="264.80" x2="607.60" y2="264.80" stroke="#1a1a1a" stroke-width="1.5" />
<path d="M598.90,261.80 L602.10,268.20 L595.70,268.20 Z" fill="none" stroke="#1a1a1a" stroke-width="1.3" stroke-linejoin="round"/>
<text transform="translate(613.40,267.30) scale(1.060,1)" font-size="12.6" font-weight="normal" text-anchor="start" fill="#111" >MBL -/-</text>
<line x1="590.10" y1="282.20" x2="607.60" y2="282.20" stroke="#1a1a1a" stroke-width="1.5" />
<circle cx="598.90" cy="282.20" r="3.20" fill="#1a1a1a"/>
<text transform="translate(613.40,286.30) scale(1.060,1)" font-size="12.6" font-weight="normal" text-anchor="start" fill="#111" >WT HI</text>
<line x1="590.10" y1="299.60" x2="607.60" y2="299.60" stroke="#1a1a1a" stroke-width="1.5" />
<path d="M598.90,295.91 L602.42,302.29 L595.38,302.29 Z" fill="#1a1a1a"/>
<text transform="translate(613.40,304.40) scale(1.060,1)" font-size="12.6" font-weight="normal" text-anchor="start" fill="#111" >MBL -/- HI</text>
<text transform="translate(1.80,434.30) scale(0.950,1)" font-size="15.4" font-weight="normal" text-anchor="start" fill="#222" >E</text>
<line x1="48.30" y1="444.10" x2="48.30" y2="600.00" stroke="#1a1a1a" stroke-width="1.4" />
<line x1="43.20" y1="599.40" x2="284.80" y2="599.40" stroke="#1a1a1a" stroke-width="1.5" />
<line x1="43.20" y1="599.30" x2="48.30" y2="599.30" stroke="#1a1a1a" stroke-width="1.4" />
<text transform="translate(42.30,603.10)" font-size="10.6" font-weight="bold" text-anchor="end" fill="#1a1a1a" >0</text>
<line x1="43.20" y1="568.40" x2="48.30" y2="568.40" stroke="#1a1a1a" stroke-width="1.4" />
<text transform="translate(42.30,572.20)" font-size="10.6" font-weight="bold" text-anchor="end" fill="#1a1a1a" >20</text>
<line x1="43.20" y1="537.50" x2="48.30" y2="537.50" stroke="#1a1a1a" stroke-width="1.4" />
<text transform="translate(42.30,541.30)" font-size="10.6" font-weight="bold" text-anchor="end" fill="#1a1a1a" >40</text>
<line x1="43.20" y1="506.60" x2="48.30" y2="506.60" stroke="#1a1a1a" stroke-width="1.4" />
<text transform="translate(42.30,510.40)" font-size="10.6" font-weight="bold" text-anchor="end" fill="#1a1a1a" >60</text>
<line x1="43.20" y1="475.70" x2="48.30" y2="475.70" stroke="#1a1a1a" stroke-width="1.4" />
<text transform="translate(42.30,479.50)" font-size="10.6" font-weight="bold" text-anchor="end" fill="#1a1a1a" >80</text>
<line x1="43.20" y1="444.80" x2="48.30" y2="444.80" stroke="#1a1a1a" stroke-width="1.4" />
<text transform="translate(42.30,448.60)" font-size="10.6" font-weight="bold" text-anchor="end" fill="#1a1a1a" >100</text>
<text transform="translate(16.60,523.50) rotate(-90) scale(1.100,1)" font-size="10.4" font-weight="bold" text-anchor="middle" fill="#1a1a1a" >% non-motile spirochetes</text>
<line x1="77.80" y1="512.16" x2="77.80" y2="505.52" stroke="#1a1a1a" stroke-width="1.5" />
<line x1="67.30" y1="505.52" x2="88.30" y2="505.52" stroke="#1a1a1a" stroke-width="1.7" />
<rect x="58.20" y="512.16" width="39.2" height="87.24" fill="#fff" stroke="#1a1a1a" stroke-width="1.8"/>
<line x1="77.80" y1="599.40" x2="77.80" y2="604.40" stroke="#1a1a1a" stroke-width="1.4" />
<text transform="translate(77.80,615.30) scale(1.017,1)" font-size="11.2" font-weight="bold" text-anchor="middle" fill="#1a1a1a" >WT</text>
<line x1="136.60" y1="509.07" x2="136.60" y2="501.04" stroke="#1a1a1a" stroke-width="1.5" />
<line x1="126.10" y1="501.04" x2="147.10" y2="501.04" stroke="#1a1a1a" stroke-width="1.7" />
<rect x="117.00" y="509.07" width="39.2" height="90.33" fill="#1a1a1a" stroke="#1a1a1a" stroke-width="1.8"/>
<line x1="136.60" y1="599.40" x2="136.60" y2="604.40" stroke="#1a1a1a" stroke-width="1.4" />
<text transform="translate(136.60,615.30) scale(1.032,1)" font-size="11.2" font-weight="bold" text-anchor="middle" fill="#1a1a1a" >MBL -/-</text>
<line x1="195.40" y1="588.48" x2="195.40" y2="584.00" stroke="#1a1a1a" stroke-width="1.5" />
<line x1="184.90" y1="584.00" x2="205.90" y2="584.00" stroke="#1a1a1a" stroke-width="1.7" />
<rect x="175.80" y="588.48" width="39.2" height="10.92" fill="#fff" stroke="#1a1a1a" stroke-width="1.8"/>
<line x1="195.40" y1="599.40" x2="195.40" y2="604.40" stroke="#1a1a1a" stroke-width="1.4" />
<text transform="translate(195.40,615.30) scale(1.032,1)" font-size="11.2" font-weight="bold" text-anchor="middle" fill="#1a1a1a" >WT HI</text>
<line x1="254.10" y1="589.72" x2="254.10" y2="586.48" stroke="#1a1a1a" stroke-width="1.5" />
<line x1="243.60" y1="586.48" x2="264.60" y2="586.48" stroke="#1a1a1a" stroke-width="1.7" />
<rect x="234.50" y="589.72" width="39.2" height="9.68" fill="#1a1a1a" stroke="#1a1a1a" stroke-width="1.8"/>
<line x1="254.10" y1="599.40" x2="254.10" y2="604.40" stroke="#1a1a1a" stroke-width="1.4" />
<text transform="translate(254.10,615.30) scale(1.069,1)" font-size="11.2" font-weight="bold" text-anchor="middle" fill="#1a1a1a" >MBL -/- HI</text>
</svg>
</body></html>
